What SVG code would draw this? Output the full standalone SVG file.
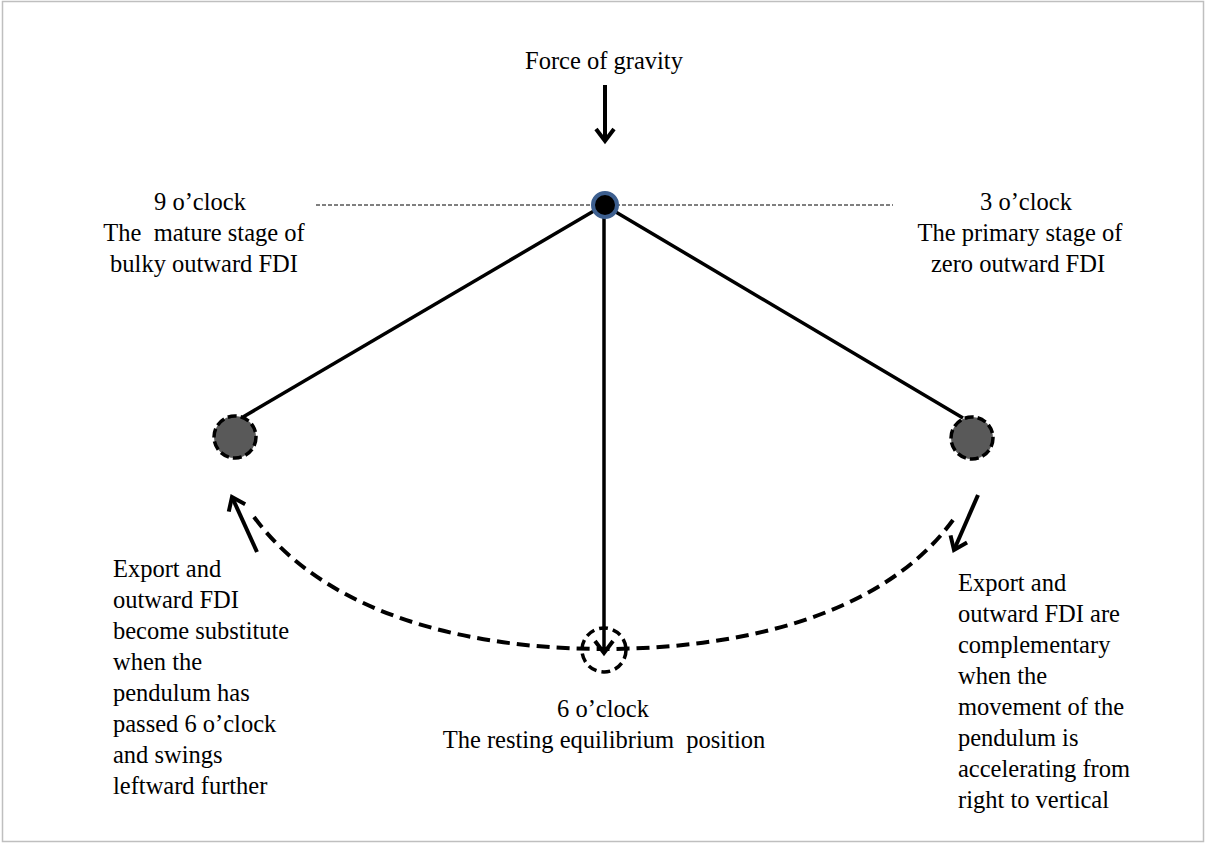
<svg xmlns="http://www.w3.org/2000/svg" width="1206" height="843" viewBox="0 0 1206 843">
<defs>
<style>
text{font-family:"Liberation Serif","Times New Roman",serif;font-size:24.5px;fill:#000;white-space:pre}
.c{text-anchor:middle}
.rod{stroke:#000;stroke-width:3.5;fill:none}
.arr{stroke:#000;stroke-width:4;fill:none}
.bob{fill:#595959;stroke:#000;stroke-width:3.5;stroke-dasharray:9 4}
</style>
<marker id="ah" markerUnits="userSpaceOnUse" markerWidth="30" markerHeight="30" refX="15" refY="15" orient="auto" overflow="visible">
<path d="M3,6 L15,15 L3,24" fill="none" stroke="#000" stroke-width="4" stroke-linejoin="miter"/>
</marker>
</defs>
<rect x="2.5" y="1.5" width="1201" height="840" fill="#fff" stroke="#bfbfbf" stroke-width="1.5"/>
<g id="connectors">
<line x1="316" y1="205" x2="893" y2="205" stroke="#000" stroke-width="1" stroke-dasharray="4 2"/>
<line class="arr" x1="605" y1="85" x2="605" y2="141" marker-end="url(#ah)"/>
<line class="rod" x1="604" y1="205" x2="243" y2="417"/>
<line class="rod" x1="604" y1="205" x2="963" y2="418"/>
<line class="rod" x1="604" y1="205" x2="604" y2="653" marker-end="url(#ah)"/>
<path d="M254,517 C330,620 480,649 604,649 C730,649 880,620 953,520" fill="none" stroke="#000" stroke-width="4" stroke-dasharray="13 7"/>
<line class="arr" x1="257" y1="552" x2="232" y2="497" marker-end="url(#ah)"/>
<line class="arr" x1="978" y1="495" x2="954" y2="550" marker-end="url(#ah)"/>
</g>
<g id="pivot"><circle cx="605" cy="205" r="12" fill="#000" stroke="#3d5f8f" stroke-width="4"/></g>
<g id="left-bob"><circle class="bob" cx="235" cy="437" r="21"/></g>
<g id="right-bob"><circle class="bob" cx="972" cy="438" r="21"/></g>
<g id="bottom-pos"><circle cx="604" cy="650" r="22" fill="none" stroke="#000" stroke-width="3.5" stroke-dasharray="9 5"/></g>
<g id="gravity-label"><text class="c" x="604" y="69">Force of gravity</text></g>
<g id="nine-label">
<text class="c" x="200" y="210">9 o’clock</text>
<text class="c" x="204" y="241">The  mature stage of</text>
<text class="c" x="204" y="272">bulky outward FDI</text>
</g>
<g id="three-label">
<text class="c" x="1026" y="210">3 o’clock</text>
<text class="c" x="1020" y="241">The primary stage of</text>
<text class="c" x="1018" y="272">zero outward FDI</text>
</g>
<g id="six-label">
<text class="c" x="603" y="717">6 o’clock</text>
<text class="c" x="604" y="748">The resting equilibrium  position</text>
</g>
<g id="left-note">
<text x="113" y="577">Export and</text>
<text x="113" y="608">outward FDI</text>
<text x="113" y="639">become substitute</text>
<text x="113" y="670">when the</text>
<text x="113" y="701">pendulum has</text>
<text x="113" y="732">passed 6 o’clock</text>
<text x="113" y="763">and swings</text>
<text x="113" y="794">leftward further</text>
</g>
<g id="right-note">
<text x="958" y="591">Export and</text>
<text x="958" y="622">outward FDI are</text>
<text x="958" y="653">complementary</text>
<text x="958" y="684">when the</text>
<text x="958" y="715">movement of the</text>
<text x="958" y="746">pendulum is</text>
<text x="958" y="777">accelerating from</text>
<text x="958" y="808">right to vertical</text>
</g>
</svg>
